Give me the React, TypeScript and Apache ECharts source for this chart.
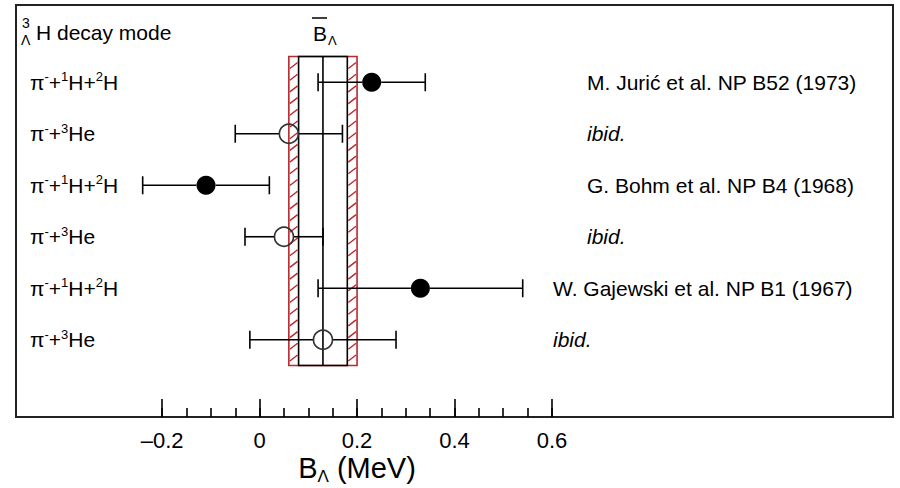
import React, { useEffect, useRef } from "react";
import * as echarts from "echarts";

// ---------- data ----------
const rowIndex = [0, 1, 2, 3, 4, 5];
const decayModeLabels = [
  "{n|π}{sup|-}{n|+}{sup|1}{n|H+}{sup|2}{n|H}",
  "{n|π}{sup|-}{n|+}{sup|3}{n|He}",
  "{n|π}{sup|-}{n|+}{sup|1}{n|H+}{sup|2}{n|H}",
  "{n|π}{sup|-}{n|+}{sup|3}{n|He}",
  "{n|π}{sup|-}{n|+}{sup|1}{n|H+}{sup|2}{n|H}",
  "{n|π}{sup|-}{n|+}{sup|3}{n|He}",
];
const references = [
  "M. Jurić et al. NP B52 (1973)",
  "ibid.",
  "G. Bohm et al. NP B4 (1968)",
  "ibid.",
  "W. Gajewski et al. NP B1 (1967)",
  "ibid.",
];
const bValues = [0.23, 0.06, -0.11, 0.05, 0.33, 0.13];
const errLow = [0.12, -0.05, -0.24, -0.03, 0.12, -0.02];
const errHigh = [0.34, 0.17, 0.02, 0.13, 0.54, 0.28];
const filledPoint = [true, false, true, false, true, false];

const meanB = 0.13;
const statRange = [0.08, 0.18];
const sysRange = [0.06, 0.2];
const bandRows = [-0.5, 5.5];

const majorTicks = [-0.2, 0, 0.2, 0.4, 0.6];
const minorTicks = [
  -0.2, -0.15, -0.1, -0.05, 0, 0.05, 0.1, 0.15, 0.2, 0.25, 0.3, 0.35, 0.4,
  0.45, 0.5, 0.55, 0.6,
];

// ---------- style ----------
const FONT = "'Liberation Sans', Arial, Helvetica, sans-serif";
const INK = "#000";
const RED = "#b8282c";

export default function App() {
  const ref = useRef<HTMLDivElement>(null);

  useEffect(() => {
    if (!ref.current) return;
    const chart = echarts.init(ref.current, null, { renderer: "svg" });

    const rowRich = {
      n: { fontSize: 21, lineHeight: 24, fontFamily: FONT, color: INK },
      sup: {
        fontSize: 13,
        lineHeight: 13,
        verticalAlign: "top",
        fontFamily: FONT,
        color: INK,
      },
    };

    const option: any = {
      animation: false,
      backgroundColor: "#fff",
      grid: {
        left: 16,
        right: 7,
        top: 5,
        bottom: 71,
        show: true,
        borderColor: "#222",
        borderWidth: 2,
        backgroundColor: "transparent",
        containLabel: false,
        outerBoundsMode: "none",
      },
      xAxis: [
        {
          type: "value",
          min: -0.5,
          max: 1.3,
          position: "bottom",
          axisLine: { show: false, onZero: false },
          splitLine: { show: false },
          axisTick: {
            show: true,
            inside: true,
            length: 18,
            customValues: majorTicks,
            lineStyle: { color: INK, width: 1.6 },
          },
          axisLabel: {
            show: true,
            customValues: majorTicks,
            margin: 12,
            fontSize: 22,
            fontFamily: FONT,
            color: INK,
            formatter: (v: number) =>
              Math.abs(v) < 1e-9
                ? "0"
                : v < 0
                ? "\u2013" + Math.abs(v).toFixed(1)
                : v.toFixed(1),
          },
        },
        {
          type: "value",
          min: -0.5,
          max: 1.3,
          position: "bottom",
          axisLine: { show: false, onZero: false },
          splitLine: { show: false },
          axisTick: {
            show: true,
            inside: true,
            length: 9,
            customValues: minorTicks,
            lineStyle: { color: INK, width: 1.6 },
          },
          axisLabel: { show: false },
        },
      ],
      yAxis: {
        type: "value",
        min: -1.5,
        max: 6.5,
        inverse: true,
        show: false,
        axisLine: { onZero: false },
      },
      series: [
        // average band
        {
          type: "custom",
          z: 1,
          silent: true,
          data: [[meanB, sysRange[0], sysRange[1], statRange[0], statRange[1], bandRows[0], bandRows[1]]],
          encode: { x: [0, 1, 2, 3, 4], y: [5, 6] },
          renderItem: (params: any, api: any) => {
            const m = api.value(0);
            const yTop = api.coord([m, api.value(5)])[1];
            const yBot = api.coord([m, api.value(6)])[1];
            const xm = api.coord([m, 0])[0];
            const xsl = api.coord([api.value(1), 0])[0];
            const xsh = api.coord([api.value(2), 0])[0];
            const xtl = api.coord([api.value(3), 0])[0];
            const xth = api.coord([api.value(4), 0])[0];
            const children: any[] = [];
            const hatch = { stroke: RED, lineWidth: 1.4 };
            for (let y = yTop + 9; y < yBot - 3; y += 11.7) {
              children.push({
                type: "line",
                shape: { x1: xsl + 1, y1: y + 3, x2: xtl - 1, y2: y - 3 },
                style: hatch,
              });
              children.push({
                type: "line",
                shape: { x1: xth + 1, y1: y + 3, x2: xsh - 1, y2: y - 3 },
                style: hatch,
              });
            }
            children.push({
              type: "rect",
              shape: { x: xsl, y: yTop, width: xsh - xsl, height: yBot - yTop },
              style: { fill: "none", stroke: RED, lineWidth: 1.6 },
            });
            children.push({
              type: "rect",
              shape: { x: xtl, y: yTop, width: xth - xtl, height: yBot - yTop },
              style: { fill: "none", stroke: INK, lineWidth: 1.6 },
            });
            children.push({
              type: "line",
              shape: { x1: xm, y1: yTop, x2: xm, y2: yBot },
              style: { stroke: INK, lineWidth: 1.6 },
            });
            return { type: "group", children };
          },
        },
        // error bars
        {
          type: "custom",
          z: 2,
          silent: true,
          data: rowIndex.map((i) => [bValues[i], i, errLow[i], errHigh[i]]),
          encode: { x: [0, 2, 3], y: 1 },
          renderItem: (params: any, api: any) => {
            const c = api.value(0);
            const row = api.value(1);
            const [xc, y] = api.coord([c, row]);
            const xl = api.coord([api.value(2), row])[0];
            const xh = api.coord([api.value(3), row])[0];
            const r = 9.5;
            const cap = 9;
            const st = { stroke: INK, lineWidth: 1.6 };
            return {
              type: "group",
              children: [
                { type: "line", shape: { x1: xl, y1: y, x2: Math.max(xl, xc - r), y2: y }, style: st },
                { type: "line", shape: { x1: Math.min(xh, xc + r), y1: y, x2: xh, y2: y }, style: st },
                { type: "line", shape: { x1: xl, y1: y - cap, x2: xl, y2: y + cap }, style: st },
                { type: "line", shape: { x1: xh, y1: y - cap, x2: xh, y2: y + cap }, style: st },
              ],
            };
          },
        },
        // points
        {
          type: "scatter",
          z: 3,
          silent: true,
          symbol: "circle",
          symbolSize: 19,
          itemStyle: { opacity: 1 },
          data: rowIndex.map((i) => ({
            value: [bValues[i], i],
            itemStyle: filledPoint[i]
              ? { color: "#000", borderWidth: 0, opacity: 1 }
              : { color: "rgba(255,255,255,0)", borderColor: "#333", borderWidth: 1.6, opacity: 1 },
          })),
        },
        // row texts
        {
          type: "custom",
          z: 4,
          silent: true,
          data: rowIndex.map((i) => [0, i]),
          encode: { x: 0, y: 1 },
          renderItem: (params: any, api: any) => {
            const row = api.value(1);
            const y = api.coord([0, row])[1];
            const refLeft = row >= 4 ? 553 : 587;
            const isIbid = references[row] === "ibid.";
            return {
              type: "group",
              children: [
                {
                  type: "text",
                  style: {
                    x: 30,
                    y,
                    text: decayModeLabels[row],
                    rich: rowRich,
                    align: "left",
                    verticalAlign: "middle",
                  },
                },
                {
                  type: "text",
                  style: {
                    x: refLeft,
                    y,
                    text: references[row],
                    fontSize: 21,
                    fontFamily: FONT,
                    fontStyle: isIbid ? "italic" : "normal",
                    fill: INK,
                    align: "left",
                    verticalAlign: "middle",
                  },
                },
              ],
            };
          },
        },
      ],
      graphic: [
        // header: 3/Λ H decay mode
        { type: "text", left: 22, top: 16, style: { text: "3", fontSize: 14, fontFamily: FONT, fill: INK } },
        { type: "text", left: 21, top: 33, style: { text: "Λ", fontSize: 14, fontFamily: FONT, fill: INK } },
        {
          type: "text",
          x: 36,
          y: 32,
          style: { text: "H decay mode", fontSize: 21, fontFamily: FONT, fill: INK, align: "left", verticalAlign: "middle" },
        },
        // B-bar Lambda
        {
          type: "text",
          x: 313,
          y: 33,
          style: { text: "B", fontSize: 21, fontFamily: FONT, fill: INK, align: "left", verticalAlign: "middle" },
        },
        {
          type: "line",
          shape: { x1: 312, y1: 18, x2: 327, y2: 18 },
          style: { stroke: INK, lineWidth: 1.5 },
        },
        {
          type: "text",
          x: 328,
          y: 40,
          style: { text: "Λ", fontSize: 13, fontFamily: FONT, fill: INK, align: "left", verticalAlign: "middle" },
        },
        // axis title
        {
          type: "text",
          x: 357,
          y: 468,
          style: {
            text: "{b|B}{sub|Λ}{b| (MeV)}",
            align: "center",
            verticalAlign: "middle",
            rich: {
              b: { fontSize: 29, lineHeight: 34, fontFamily: FONT, color: INK },
              sub: { fontSize: 17, lineHeight: 17, verticalAlign: "bottom", fontFamily: FONT, color: INK },
            },
          },
        },
      ],
    };

    chart.setOption(option);
    return () => chart.dispose();
  }, []);

  return (
    <div
      ref={ref}
      style={{ position: "fixed", left: 0, top: 0, width: 900, height: 488, background: "#fff" }}
    />
  );
}
